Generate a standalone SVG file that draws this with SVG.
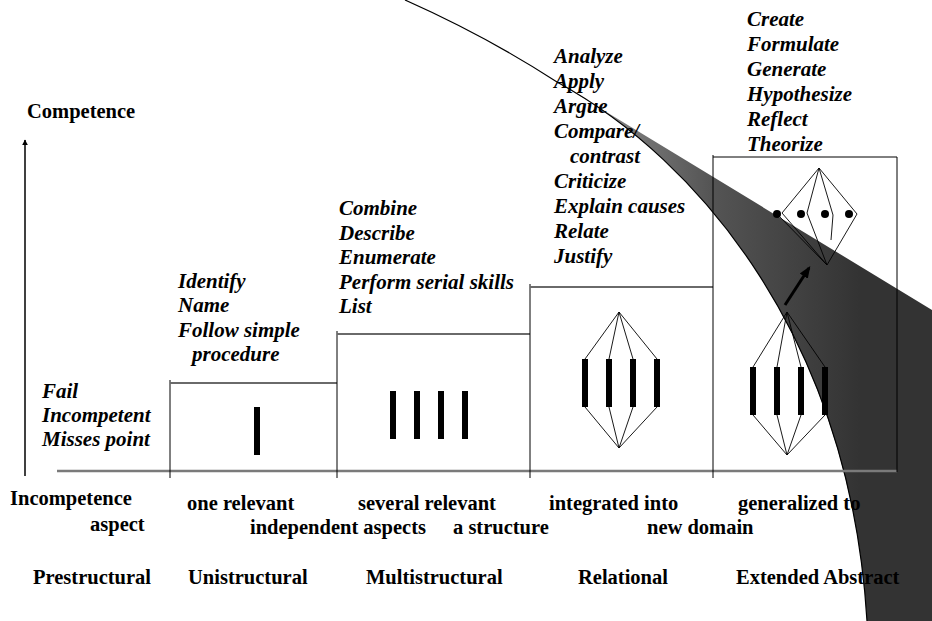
<svg xmlns="http://www.w3.org/2000/svg" width="932" height="621" viewBox="0 0 932 621">
<style>
.it{font-family:"Liberation Serif","Times New Roman",serif;font-weight:bold;font-style:italic;font-size:21px;fill:#000}
.lb{font-family:"Liberation Serif","Times New Roman",serif;font-weight:bold;font-size:20.5px;fill:#000}
.step{stroke:#6a6a6a;stroke-width:2;fill:none}
.vl{stroke:#000;stroke-width:1;fill:none}
.bar{fill:#000}
.thin{stroke:#000;stroke-width:0.9;fill:none}
</style>
<defs>
<linearGradient id="sh" gradientUnits="userSpaceOnUse" x1="560" y1="0" x2="860" y2="0">
<stop offset="0" stop-color="#999"/>
<stop offset="0.5" stop-color="#555"/>
<stop offset="1" stop-color="#333"/>
</linearGradient>
<marker id="ah" viewBox="0 0 10 10" refX="9" refY="5" markerWidth="6" markerHeight="6" orient="auto" markerUnits="userSpaceOnUse">
<path d="M0,0 L10,5 L0,10 z" fill="#000"/>
</marker>
<marker id="ah2" viewBox="0 0 10 10" refX="8" refY="5" markerWidth="12" markerHeight="12" orient="auto" markerUnits="userSpaceOnUse">
<path d="M0,1 L10,5 L0,9 z" fill="#000"/>
</marker>
</defs>
<rect width="932" height="621" fill="#fff"/>
<g id="swoosh">
<path d="M557,82 L932,310 L932,621 L867,621 C850,340 700,160 557,82 Z" fill="url(#sh)"/>
<path d="M405,0 Q486,36 557,82 C700,160 850,340 867,621" stroke="#000" stroke-width="1.2" fill="none"/>
</g>
<g id="frame">
<line x1="57" y1="471" x2="897" y2="471" stroke="#7a7a7a" stroke-width="2.5"/>
</g>
<g id="connectors">
<line x1="25" y1="476" x2="25" y2="140" stroke="#000" stroke-width="1.5" marker-end="url(#ah)"/>
<line x1="785" y1="305" x2="809" y2="268" stroke="#000" stroke-width="3" marker-end="url(#ah2)"/>
</g>
<g id="axis-labels">
<text class="lb" x="27" y="118">Competence</text>
</g>
<g id="prestructural">
<text class="it" x="42" y="398">Fail</text>
<text class="it" x="42" y="422">Incompetent</text>
<text class="it" x="42" y="446">Misses point</text>
<text class="lb" x="10" y="505">Incompetence</text>
<text class="lb" x="90" y="531">aspect</text>
<text class="lb" x="33" y="584">Prestructural</text>
</g>
<g id="unistructural">
<line class="vl" x1="170" y1="380" x2="170" y2="478"/>
<line class="step" x1="170" y1="383" x2="337" y2="383"/>
<rect class="bar" x="254" y="407" width="6" height="48"/>
<text class="it" x="178" y="288">Identify</text>
<text class="it" x="178" y="312">Name</text>
<text class="it" x="178" y="337">Follow simple</text>
<text class="it" x="192" y="361">procedure</text>
<text class="lb" x="187" y="510">one relevant</text>
<text class="lb" x="188" y="584">Unistructural</text>
</g>
<g id="multistructural">
<line class="vl" x1="337" y1="331" x2="337" y2="478"/>
<line class="step" x1="337" y1="334" x2="530" y2="334"/>
<rect class="bar" x="390" y="391" width="6" height="48"/>
<rect class="bar" x="414" y="391" width="6" height="48"/>
<rect class="bar" x="438" y="391" width="6" height="48"/>
<rect class="bar" x="462" y="391" width="6" height="48"/>
<text class="it" x="339" y="215">Combine</text>
<text class="it" x="339" y="240">Describe</text>
<text class="it" x="339" y="264">Enumerate</text>
<text class="it" x="339" y="289">Perform serial skills</text>
<text class="it" x="339" y="313">List</text>
<text class="lb" x="358" y="510">several relevant</text>
<text class="lb" x="250" y="534">independent aspects</text>
<text class="lb" x="366" y="584">Multistructural</text>
</g>
<g id="relational">
<line class="vl" x1="530" y1="284" x2="530" y2="478"/>
<line class="step" x1="530" y1="287" x2="713" y2="287"/>
<path class="thin" d="M585,359 L619,312 L609,359 M619,312 L633,359 M619,312 L657,359 M585,407 L619,448 L609,407 M619,448 L633,407 M619,448 L657,407"/>
<rect class="bar" x="582" y="359" width="6" height="48"/>
<rect class="bar" x="606" y="359" width="6" height="48"/>
<rect class="bar" x="630" y="359" width="6" height="48"/>
<rect class="bar" x="654" y="359" width="6" height="48"/>
<text class="it" x="554" y="63">Analyze</text>
<text class="it" x="554" y="88">Apply</text>
<text class="it" x="554" y="113">Argue</text>
<text class="it" x="554" y="138">Compare/</text>
<text class="it" x="570" y="163">contrast</text>
<text class="it" x="554" y="188">Criticize</text>
<text class="it" x="554" y="213">Explain causes</text>
<text class="it" x="554" y="238">Relate</text>
<text class="it" x="554" y="263">Justify</text>
<text class="lb" x="549" y="510">integrated into</text>
<text class="lb" x="453" y="534">a structure</text>
<text class="lb" x="578" y="584">Relational</text>
</g>
<g id="extended-abstract">
<line class="vl" x1="713" y1="155" x2="713" y2="478"/>
<line class="vl" x1="713" y1="157" x2="897" y2="157"/>
<line class="vl" x1="897" y1="157" x2="897" y2="472"/>
<path class="thin" d="M753,367 L787,312 L777,367 M787,312 L801,367 M787,312 L825,367 M753,415 L787,455 L777,415 M787,455 L801,415 M787,455 L825,415"/>
<rect class="bar" x="750" y="367" width="6" height="48"/>
<rect class="bar" x="774" y="367" width="6" height="48"/>
<rect class="bar" x="798" y="367" width="6" height="48"/>
<rect class="bar" x="822" y="367" width="6" height="48"/>
<path class="thin" d="M782,213 L819,168 L857,214 L827,265 Z M777,214 L827,265 M819,168 L807,213 L827,265 M819,168 L833,215 L831,240"/>
<circle cx="777" cy="214" r="4" fill="#000"/>
<circle cx="801" cy="214" r="4" fill="#000"/>
<circle cx="825" cy="214" r="4" fill="#000"/>
<circle cx="849" cy="214" r="4" fill="#000"/>
<text class="it" x="747" y="26">Create</text>
<text class="it" x="747" y="51">Formulate</text>
<text class="it" x="747" y="76">Generate</text>
<text class="it" x="747" y="101">Hypothesize</text>
<text class="it" x="747" y="126">Reflect</text>
<text class="it" x="747" y="151">Theorize</text>
<text class="lb" x="738" y="510">generalized to</text>
<text class="lb" x="647" y="534">new domain</text>
<text class="lb" x="736" y="584">Extended Abstract</text>
</g>
</svg>
